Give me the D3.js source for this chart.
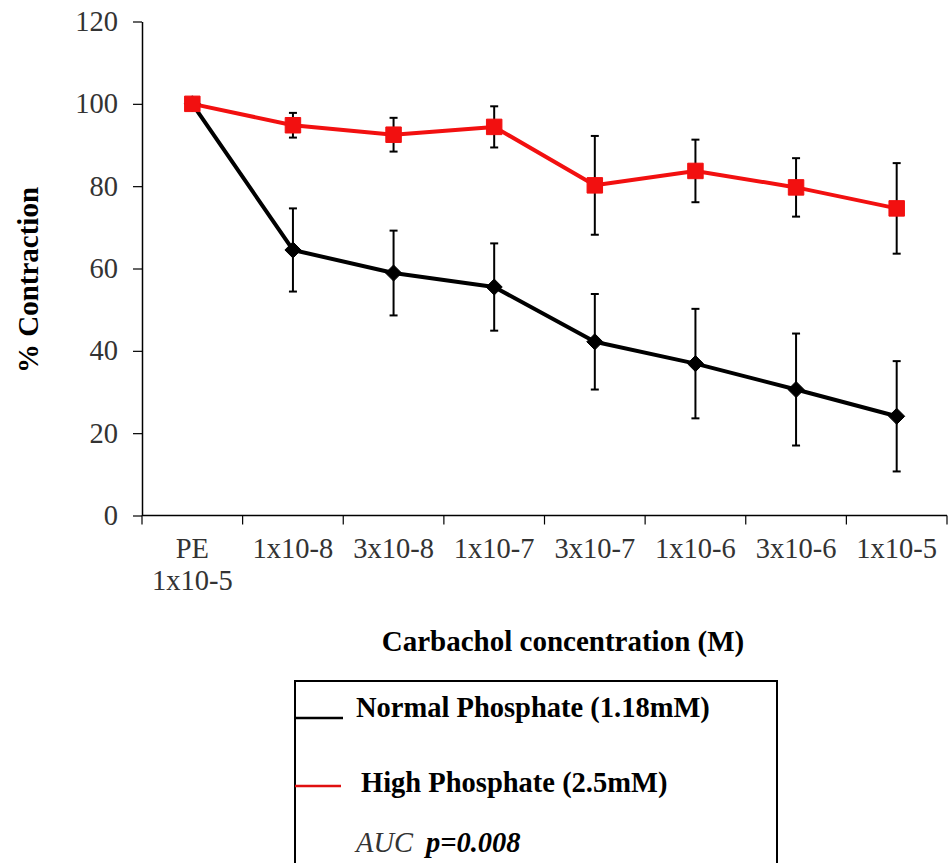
<!DOCTYPE html>
<html>
<head>
<meta charset="utf-8">
<script src="https://cdn.jsdelivr.net/npm/d3@7"></script>
<style>
  html, body { margin: 0; padding: 0; background: #fff; }
  svg { display: block; }
  text { font-family: "Liberation Serif", "Times New Roman", serif; }
</style>
</head>
<body>
<svg id="chart" width="949" height="863"></svg>
<script>
// Carbachol concentration steps (first point is the phenylephrine pre-contraction)
const categories = ["PE|1x10-5", "1x10-8", "3x10-8", "1x10-7", "3x10-7", "1x10-6", "3x10-6", "1x10-5"];

// Mean % contraction and SEM for each group
const normalMean = [100, 64.5, 58.9, 55.5, 42.2, 36.9, 30.6, 24.1];
const normalErr  = [0, 10.1, 10.3, 10.6, 11.6, 13.3, 13.6, 13.4];
const highMean   = [100, 94.8, 92.5, 94.4, 80.2, 83.7, 79.7, 74.6];
const highErr    = [0, 3.0, 4.1, 5.0, 12.0, 7.6, 7.1, 11.0];

const yTicks = [0, 20, 40, 60, 80, 100, 120];

const FS = "28.5px";
const svg = d3.select("#chart");

const x = d3.scaleBand().domain(categories).range([142, 947]).padding(0);
const y = d3.scaleLinear().domain([0, 120]).range([515.5, 21.5]);
const cx = c => x(c) + x.bandwidth() / 2;

// Y axis
const yAxis = svg.append("g")
  .attr("transform", "translate(142,0)")
  .call(d3.axisLeft(y).tickValues(yTicks).tickSize(9).tickSizeOuter(0).tickPadding(15));
yAxis.select(".domain").attr("stroke", "#000").attr("stroke-width", 1.5);
yAxis.selectAll(".tick line").attr("stroke", "#000").attr("stroke-width", 1.2);
yAxis.selectAll(".tick text")
  .attr("fill", "#333")
  .style("font-size", FS)
  .style("font-family", "'Liberation Serif', serif");

// X axis: baseline plus ticks at category boundaries
const xAxis = svg.append("g").attr("transform", "translate(0,515.5)");
xAxis.append("line")
  .attr("x1", x.range()[0]).attr("x2", x.range()[1])
  .attr("stroke", "#000").attr("stroke-width", 1.5);
const bounds = categories.map(c => x(c)).concat([x.range()[1]]);
xAxis.selectAll("line.tk").data(bounds).enter().append("line")
  .attr("class", "tk")
  .attr("x1", d => d).attr("x2", d => d)
  .attr("y1", 0).attr("y2", 9)
  .attr("stroke", "#000").attr("stroke-width", 1.2);

const xLab = svg.append("g");
categories.forEach(c => {
  const lines = c.split("|");
  const t = xLab.append("text")
    .attr("x", cx(c)).attr("y", 558)
    .attr("text-anchor", "middle")
    .attr("fill", "#333")
    .style("font-size", FS);
  lines.forEach((s, i) => {
    t.append("tspan").attr("x", cx(c)).attr("dy", i === 0 ? 0 : 32).text(s);
  });
});

// Axis titles
svg.append("text")
  .attr("x", 563).attr("y", 651)
  .attr("text-anchor", "middle")
  .style("font-size", "29px").style("font-weight", "bold")
  .text("Carbachol concentration (M)");

svg.append("text")
  .attr("transform", "translate(38,280) rotate(-90)")
  .attr("text-anchor", "middle")
  .style("font-size", "29px").style("font-weight", "bold")
  .text("% Contraction");

// Series
const series = [
  { mean: normalMean, err: normalErr, color: "#000", marker: "diamond" },
  { mean: highMean,   err: highErr,   color: "#f21010", marker: "square" }
];

const line = d3.line().x((d, i) => cx(categories[i])).y(d => y(d));

series.forEach(s => {
  svg.append("path")
    .datum(s.mean)
    .attr("d", line)
    .attr("fill", "none")
    .attr("stroke", s.color)
    .attr("stroke-width", 4)
    .attr("stroke-linejoin", "round");
});

// Error bars
series.forEach(s => {
  const g = svg.append("g");
  s.mean.forEach((m, i) => {
    if (!s.err[i]) return;
    const px = cx(categories[i]);
    const top = y(m + s.err[i]), bot = y(m - s.err[i]);
    g.append("line").attr("x1", px).attr("x2", px).attr("y1", top).attr("y2", bot)
      .attr("stroke", "#000").attr("stroke-width", 2);
    [top, bot].forEach(yy => {
      g.append("line").attr("x1", px - 4).attr("x2", px + 4).attr("y1", yy).attr("y2", yy)
        .attr("stroke", "#000").attr("stroke-width", 2);
    });
  });
});

// Markers
series.forEach(s => {
  const sym = s.marker === "square"
    ? d3.symbol().type(d3.symbolSquare).size(240)
    : d3.symbol().type(d3.symbolDiamond2).size(165);
  svg.append("g").selectAll("path").data(s.mean).enter().append("path")
    .attr("d", sym)
    .attr("transform", (d, i) => `translate(${cx(categories[i])},${y(d)})`)
    .attr("fill", s.color)
    .attr("stroke", s.color)
    .attr("stroke-width", 1)
    .attr("stroke-linejoin", "round");
});

// Legend
const leg = svg.append("g");
leg.append("rect")
  .attr("x", 295).attr("y", 681)
  .attr("width", 482).attr("height", 220)
  .attr("fill", "none").attr("stroke", "#000").attr("stroke-width", 2);
leg.append("line").attr("x1", 295).attr("x2", 343).attr("y1", 718).attr("y2", 718)
  .attr("stroke", "#000").attr("stroke-width", 2.5);
leg.append("line").attr("x1", 295).attr("x2", 341).attr("y1", 786).attr("y2", 786)
  .attr("stroke", "#e01010").attr("stroke-width", 2.5);
leg.append("text").attr("x", 356).attr("y", 717)
  .style("font-size", FS).style("font-weight", "bold")
  .text("Normal Phosphate (1.18mM)");
leg.append("text").attr("x", 361).attr("y", 792)
  .style("font-size", FS).style("font-weight", "bold")
  .text("High Phosphate (2.5mM)");
const auc = leg.append("text").attr("x", 356).attr("y", 852)
  .style("font-size", FS).style("font-style", "italic");
auc.append("tspan").attr("fill", "#333").text("AUC");
auc.append("tspan").attr("x", 426).style("font-weight", "bold").text("p=0.008");
</script>
</body>
</html>
